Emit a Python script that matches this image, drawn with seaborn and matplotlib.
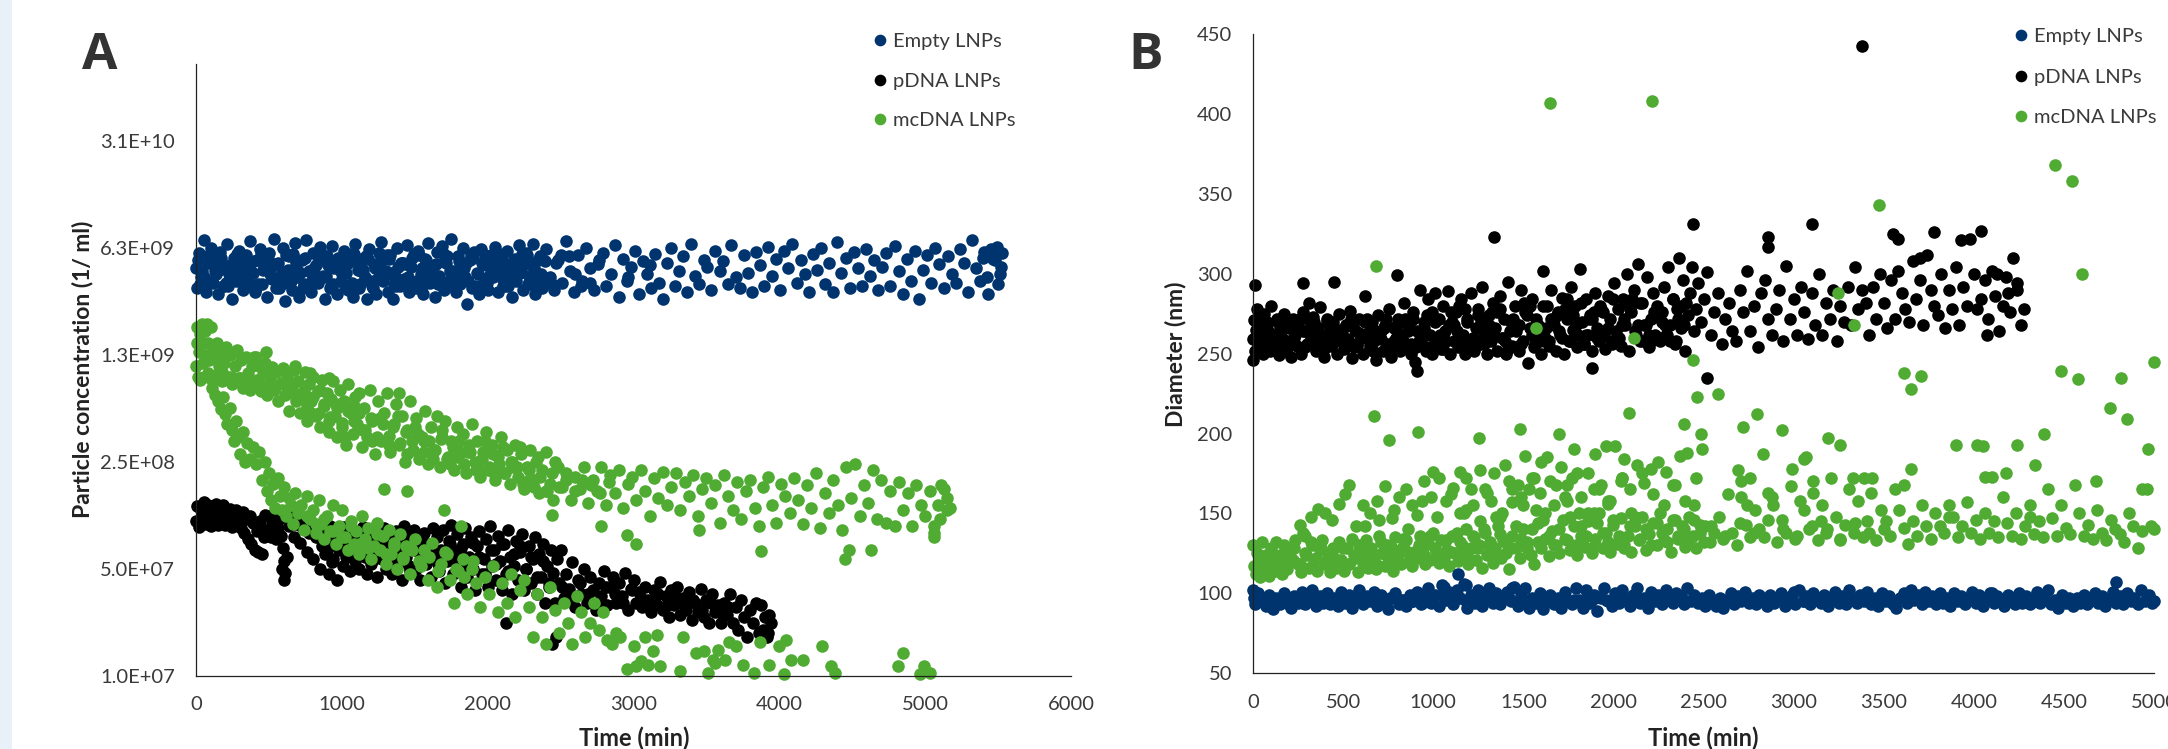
"""Particle concentration and diameter of LNP formulations over time."""

import matplotlib
matplotlib.use("Agg")
import matplotlib.pyplot as plt
from matplotlib.lines import Line2D
from matplotlib.patches import Rectangle
import pandas as pd
import seaborn as sns

W, H = 2168, 749
BLUE = "#00346F"
BLACK = "#000000"
GREEN = "#4FAB32"
TEXT = "#3A3A3A"

SERIES_NAMES = ["Empty LNPs", "pDNA LNPs", "mcDNA LNPs"]

# Panel A, concentration of empty LNPs (x 1e9 / ml)
a_empty_x = [
    0,6,20,36,52,66,84,100,114,132,
    148,164,180,194,212,228,244,258,276,292,
    308,324,340,356,372,388,404,420,436,452,
    468,484,500,516,532,548,564,580,596,612,
    628,644,660,676,692,708,724,740,756,772,
    788,804,820,836,852,868,884,900,916,932,
    948,964,980,996,1012,1028,1044,1060,1076,1092,
    1108,1124,1140,1156,1172,1188,1204,1220,1236,1252,
    1268,1284,1300,1316,1332,1348,1364,1380,1396,1412,
    1428,1444,1460,1476,1492,1508,1524,1540,1556,1572,
    1588,1604,1620,1636,1652,1668,1684,1700,1716,1732,
    1748,1764,1780,1796,1812,1828,1844,1860,1876,1892,
    1908,1924,1940,1956,1972,1988,2004,2020,2036,2052,
    2068,2084,2100,2116,2132,2148,2164,2180,2196,2212,
    2228,2244,2260,2276,2292,2308,2324,2340,2356,2372,
    2400,2428,2452,2484,2510,2536,2566,2590,2622,2648,
    2676,2702,2732,2758,2788,2812,2844,2870,2898,2926,
    2952,2982,3008,3036,3064,3090,3120,3146,3174,3204,
    3230,3258,3286,3312,3342,3368,3396,3424,3450,3480,
    3506,3534,3562,3590,3616,3646,3672,3700,3728,3756,
    3784,3812,3838,3868,3894,3922,3950,3978,4006,4034,
    4062,4090,4118,4146,4174,4202,4230,4258,4286,4314,
    4342,4370,4398,4426,4454,4482,4510,4538,4566,4594,
    4622,4650,4678,4706,4734,4762,4790,4818,4846,4874,
    4902,4930,4958,4986,5014,5042,5070,5098,5126,5154,
    5182,5210,5238,5266,5294,5322,5350,5378,5406,5434,
    5462,5490,5510,5530,5518,5500,5480,5450,5425,5395,
]
a_empty_y = [
    4.6,3.4,5.8,4.0,7.0,3.2,5.0,6.2,3.7,4.4,
    3.1,5.9,4.8,3.5,6.6,4.2,2.9,5.4,3.8,6.0,
    4.6,3.3,5.6,3.9,6.9,4.3,3.2,5.2,6.1,3.6,
    4.7,3.0,5.8,4.1,7.1,3.4,5.0,3.8,6.2,2.8,
    4.5,5.6,3.3,6.7,4.0,3.0,5.2,3.6,7.0,4.4,
    3.2,5.8,4.8,3.7,6.3,4.1,2.9,5.5,3.4,6.4,
    4.6,3.1,5.1,3.8,6.0,4.3,3.3,5.7,3.0,6.6,
    4.5,3.6,5.3,4.0,2.9,6.1,3.5,4.9,3.1,5.8,
    6.8,3.8,4.4,3.2,5.6,2.9,4.1,6.2,3.5,5.0,
    3.9,6.5,3.2,4.7,5.7,3.4,6.0,4.2,3.1,5.3,
    6.7,3.7,4.5,3.0,5.9,4.1,6.4,3.3,5.0,3.8,
    7.1,4.4,3.2,5.5,3.6,6.2,4.0,2.7,5.2,3.4,
    5.9,4.3,3.1,6.1,3.7,4.8,3.3,5.6,4.0,6.3,
    3.2,4.6,5.4,3.5,6.0,4.2,3.0,5.2,3.8,6.5,
    4.4,3.3,5.8,3.6,4.9,6.6,3.1,4.1,5.5,3.4,
    6.1,4.0,3.3,5.2,3.7,6.9,4.4,3.2,5.6,3.8,
    6.2,4.6,3.3,4.9,5.8,3.5,4.2,6.5,3.0,5.3,
    3.8,4.7,6.0,3.1,5.1,4.2,3.4,5.7,3.7,2.9,
    5.0,6.2,3.5,4.4,5.5,3.2,6.6,4.1,3.6,5.2,
    4.7,3.3,6.0,4.4,5.1,3.6,6.5,4.0,3.4,5.6,
    4.3,3.2,5.9,4.8,3.5,6.3,4.1,5.3,3.3,6.0,
    4.6,6.6,3.7,5.2,4.2,3.2,5.7,4.5,6.2,3.6,
    5.0,3.2,6.8,4.3,5.4,3.4,5.9,4.6,3.5,6.1,
    4.1,5.2,3.3,4.7,5.8,3.5,6.4,4.4,3.1,5.3,
    3.8,6.0,2.9,4.5,5.6,3.7,6.2,4.9,3.4,5.5,
    4.2,3.7,6.1,5.0,3.2,7.0,4.6,3.8,5.9,3.1,
    5.3,6.3,4.2,5.8,4.7,3.6,5.2,6.1,4.0,5.4,
]
a_empty_x2 = [
    12,40,72,108,140,172,204,236,268,300,
    332,364,396,428,460,492,524,556,588,620,
    652,684,716,748,780,812,844,876,908,940,
    972,1004,1036,1068,1100,1132,1164,1196,1228,1260,
    1292,1324,1356,1388,1420,1452,1484,1516,1548,1580,
    1612,1644,1676,1708,1740,1772,1804,1836,1868,1900,
    1932,1964,1996,2028,2060,2092,2124,2156,2188,2220,
    2252,2284,2316,2348,2380,2470,2600,2760,2960,3110,
    26,90,156,220,284,348,412,476,540,604,
    668,732,796,860,924,988,1052,1116,1180,1244,
    1308,1372,1436,1500,1564,1628,1692,1756,1820,1884,
    1948,2012,2076,2140,2204,2268,2332,2396,2500,2640,
    58,122,186,250,316,380,444,508,572,636,
    700,764,828,892,956,1020,1084,1148,1212,1276,
    1340,1404,1468,1532,1596,1660,1724,1788,1852,1916,
    1980,2044,2108,2172,2236,2300,2364,2440,2560,2700,
]
a_empty_y2 = [
    5.2,4.4,3.8,5.0,4.2,5.4,3.7,4.8,4.1,5.5,
    3.9,4.7,5.1,3.6,4.5,5.3,3.9,4.8,4.2,5.6,
    3.8,5.0,4.3,5.4,3.7,4.6,5.2,4.0,4.8,3.6,
    5.4,4.2,4.9,3.7,5.1,4.4,5.5,3.8,4.6,5.0,
    4.1,5.3,3.6,4.7,5.0,4.0,5.4,3.8,4.6,5.2,
    4.1,4.9,3.7,5.3,4.4,3.9,5.1,4.6,3.8,5.4,
    4.2,5.0,3.7,4.7,5.2,4.0,4.8,3.8,5.3,4.3,
    5.0,4.1,4.6,5.2,3.9,5.0,4.2,5.2,4.0,4.8,
    3.6,5.6,4.5,3.5,5.7,4.0,3.4,5.5,4.9,3.7,
    5.7,3.4,4.2,5.8,3.5,4.5,5.6,3.4,5.3,3.9,
    5.6,3.5,4.9,5.7,3.6,4.3,5.8,3.5,4.7,5.6,
    3.5,4.1,5.7,3.5,4.5,5.6,3.6,5.1,5.6,3.5,
    4.0,5.7,3.5,4.4,5.0,3.5,5.7,4.3,3.4,5.5,
    4.4,3.5,5.8,4.1,5.0,3.5,5.7,4.5,3.4,5.6,
    4.3,5.0,3.5,5.6,4.4,3.6,5.5,4.2,5.0,3.5,
    5.6,4.4,3.5,5.0,5.7,3.6,4.2,3.6,5.5,3.7,
]

# Panel A, concentration of pDNA LNPs (x 1e8 / ml)
a_pdna_x = [
    0,8,20,32,44,56,68,80,92,104,
    116,128,140,152,164,176,188,200,212,224,
    236,248,260,272,284,296,308,320,332,344,
    356,368,380,392,404,416,428,440,452,464,
    476,488,500,512,524,536,548,560,572,584,
    596,604,612,590,600,625,640,655,670,685,
    700,715,730,745,760,775,790,805,820,835,
    850,862,874,886,898,910,922,934,946,958,
    970,982,994,1006,1018,1030,1042,1054,1066,1078,
    1090,1104,1118,1132,1146,1160,1174,1188,1202,1216,
    1230,1244,1258,1272,1286,1300,1314,1328,1342,1356,
    1370,1384,1398,1412,1426,1440,1454,1468,1482,1496,
    1510,1524,1538,1552,1566,1580,1594,1608,1622,1636,
    1650,1664,1678,1692,1706,1720,1734,1748,1762,1776,
    1790,1804,1818,1832,1846,1860,1874,1888,1902,1916,
    1930,1944,1958,1972,1986,2000,2014,2028,2042,2056,
    2070,2084,2098,2112,2126,2140,2154,2168,2182,2196,
    2210,2224,2238,2252,2266,2280,2294,2308,2322,2336,
    2350,2364,2378,2392,2406,2420,2434,2448,2462,2476,
    2490,2500,2520,2540,2560,2580,2600,2620,2640,2660,
    2680,2700,2720,2740,2760,2780,2800,2820,2840,2860,
    2880,2900,2920,2940,2960,2980,3000,3020,3040,3060,
    3080,3100,3120,3140,3160,3180,3200,3220,3240,3260,
    3280,3300,3320,3340,3360,3380,3400,3420,3440,3460,
    3480,3500,3520,3540,3560,3580,3600,3620,3640,3660,
    3680,3700,3720,3740,3760,3780,3800,3820,3840,3860,
    3875,3885,3900,3915,3930,3940,3925,2125,2440,2470,
]
a_pdna_y = [
    1.02,1.28,.93,1.2,1.08,1.37,.98,1.3,1.12,.95,
    1.24,1.05,1.32,.97,1.18,1.08,1.3,.96,1.2,1.05,
    1.22,.94,1.12,1.2,1.0,1.15,.92,1.18,.85,1.05,
    .78,1.1,.72,1.0,.66,.88,.64,1.02,.62,.8,
    1.12,.9,1.1,.8,.98,1.12,.78,.92,1.05,.82,
    .68,.56,.47,.5,.42,.6,.95,1.08,.8,.98,
    1.1,.74,.93,1.05,.64,.86,1.0,.58,.8,.95,
    .5,.7,.9,.62,.82,.46,.95,.55,.75,.88,
    .42,.66,.86,.52,.94,.6,.76,.48,.9,.68,
    .56,.84,.5,.72,.94,.6,.46,.8,.54,.9,
    .66,.44,.78,.58,.92,.5,.7,.84,.46,.62,
    .88,.54,.74,.42,.95,.6,.82,.48,.68,.9,
    .5,.78,.42,.62,.86,.54,.72,.44,.92,.6,
    .8,.48,.66,.9,.4,.56,.76,.96,.46,.64,
    .84,.52,.38,.72,.92,.44,.6,.8,.5,.36,
    .7,.88,.46,.58,.78,.38,.95,.52,.66,.42,
    .82,.56,.36,.72,.46,.9,.6,.34,.52,.76,
    .42,.64,.84,.36,.5,.7,.4,.58,.8,.34,
    .62,.44,.72,.3,.52,.38,.66,.47,.3,.58,
    .4,.66,.32,.46,.37,.55,.28,.42,.34,.5,
    .3,.44,.36,.27,.4,.33,.48,.29,.38,.44,
    .3,.4,.33,.47,.27,.37,.42,.3,.35,.28,
    .38,.31,.26,.36,.29,.41,.27,.33,.24,.36,
    .29,.38,.25,.32,.27,.35,.23,.3,.26,.37,
    .24,.31,.22,.34,.26,.29,.22,.3,.25,.34,
    .22,.28,.2,.31,.24,.18,.27,.22,.3,.19,
    .29,.2,.24,.18,.25,.22,.19,.22,.16,.18,
]
a_pdna_x2 = [
    860,900,940,980,1020,1060,1100,1140,1180,1220,
    1260,1300,1340,1380,1420,1460,1500,1540,1580,1620,
    1660,1700,1740,1780,1820,1860,1900,1940,1980,2020,
    2060,2100,2140,2180,2220,2260,2300,2340,2380,2420,
    2510,2570,2630,2690,2750,2810,2870,2930,2990,3050,
    3110,3170,3230,3290,3350,3410,3470,3530,3590,3650,
]
a_pdna_y2 = [
    .78,.66,.58,.74,.7,.6,.76,.64,.72,.58,
    .68,.74,.56,.66,.72,.52,.66,.76,.58,.7,
    .54,.64,.72,.56,.68,.5,.74,.6,.46,.66,
    .54,.72,.48,.62,.7,.5,.6,.44,.56,.4,
    .38,.32,.4,.34,.3,.38,.34,.3,.36,.32,
    .3,.34,.29,.32,.28,.31,.27,.3,.26,.28,
]

# Panel A, concentration of mcDNA LNPs (x 1e8 / ml)
a_mc_x = [
    0,5,10,15,20,25,30,38,45,50,
    55,60,68,75,80,85,92,100,108,115,
    125,135,145,155,165,175,190,205,220,235,
    250,265,280,295,310,325,340,355,370,385,
    400,415,430,445,460,475,490,505,520,535,
    550,565,580,595,610,625,640,655,670,685,
    700,715,730,745,760,775,790,805,820,835,
    850,865,880,895,910,925,940,955,970,985,
    1000,1015,1030,1045,1060,1075,1090,1105,1120,1135,
    1150,1170,1190,1210,1230,1250,1270,1290,1310,1330,
    1350,1370,1390,1410,1430,1450,1470,1490,1510,1530,
    1550,1570,1590,1610,1630,1650,1670,1690,1710,1730,
    1750,1770,1790,1810,1830,1850,1870,1890,1910,1930,
    1950,1970,1990,2010,2030,2050,2070,2090,2110,2130,
    2150,2170,2190,2210,2230,2250,2270,2290,2310,2330,
    2350,2375,2400,2425,2450,2480,2510,2540,2570,2600,
    2630,2660,2690,2720,2750,2780,2810,2840,2870,2900,
    2930,2960,2990,3020,3050,3080,3110,3140,3170,3200,
    3230,3260,3290,3320,3350,3380,3410,3440,3470,3500,
    3530,3560,3590,3620,3650,3680,3710,3740,3770,3800,
    3830,3860,3890,3920,3950,3980,4010,4040,4070,4100,
    4130,4160,4190,4220,4250,4280,4310,4340,4370,4400,
    4430,4460,4490,4520,4550,4580,4610,4640,4670,4700,
    4730,4760,4790,4820,4850,4880,4910,4940,4970,5000,
    5030,5060,5085,5110,5130,5150,5170,5150,5100,5060,
    480,410,680,785,910,1395,2780,2957,3014,3447,
    3875,4452,4481,4630,5058,2442,1290,1450,1700,1820,
    # lower branch
    110,130,150,170,185,200,215,230,245,260,
    275,290,305,320,335,350,370,390,410,430,
    450,470,485,500,515,530,545,560,575,590,
    605,620,635,650,665,680,700,720,740,760,
    780,800,820,840,860,880,900,920,940,960,
    980,1000,1020,1040,1060,1080,1100,1120,1140,1160,
    1180,1200,1220,1240,1260,1280,1300,1320,1340,1360,
    1380,1400,1420,1440,1470,1500,1530,1560,1590,1620,
    1650,1680,1710,1740,1770,1800,1830,1860,1890,1920,
    1950,1980,2010,2040,2070,2100,2130,2160,2190,2220,
    2250,2280,2310,2340,2370,2400,2430,2460,2490,2520,
    2550,2580,2610,2640,2670,2700,2730,2760,2790,2820,
    2850,2880,2910,
    2957,3019,3053,3101,3135,3005,3077,3159,3183,3317,
    3341,3428,3486,3510,3548,3582,3558,3630,3654,3702,
    3750,3827,3870,3928,4000,4048,4029,4077,4159,4293,
    4356,4380,4817,4846,4962,4990,5034,
]
a_mc_y = [
    10.5,15,19,9,13,17,8.6,20,11,15,
    9,18,12.5,20,9.5,15,11.5,19,8.6,14,
    12,9.2,15,10.5,13,8.4,11,14,9,12.5,
    8,10.5,13.5,8.8,11.5,7.6,12,9.5,7.4,10.5,
    12,8,10.5,7.2,9.4,11,6.8,8.8,10.4,7.4,
    9.6,6.2,8.2,10.2,6.8,9,5.4,7.8,10,6.2,
    8.4,5.2,7,9.6,4.6,8,6.2,9,5,7.2,
    4.2,8.6,5.8,7,3.9,6.4,8.4,5,3.6,7.4,
    4.5,6.2,3.2,8,5.2,3.8,6.6,4.4,7,3.1,
    5.6,3.6,7.4,4.6,2.8,6.2,3.4,5.2,7,2.9,
    4.2,6,3.2,5,2.5,4,6.2,3,4.8,2.6,
    3.6,5.4,2.4,4.2,3,5,2.3,3.6,4.6,2.7,
    3.4,2.2,4.2,2.9,3.8,2.1,3.2,4.4,2.5,3.4,
    2,2.9,3.9,2.3,3.2,1.9,2.7,3.6,2.1,3,
    1.8,2.5,3.2,2,2.8,1.65,2.3,3,1.9,2.5,
    1.55,2.2,2.9,1.8,1.4,2.3,1.7,2.1,1.4,2,
    1.65,2.3,1.35,1.9,1.6,2.3,1.3,2.05,1.55,2.2,
    1.25,1.8,2,1.4,2.2,1.6,1.1,1.95,1.45,2.15,
    1.3,1.7,2.1,1.2,1.85,1.5,2.05,1.1,1.65,1.95,
    1.35,1.75,1,2.05,1.5,1.2,1.85,1.05,1.6,1.9,
    1.25,.95,1.7,2,1.3,1,1.8,1.5,1.15,1.95,
    1.4,.98,1.75,1.25,2.1,.92,1.55,1.15,1.9,1.3,
    .9,2.3,1.45,2.4,1.1,1.75,1.35,2.2,1.05,1.9,
    1,1.6,.95,1.85,1.2,1.55,.95,1.75,1.3,1.1,
    1.6,.85,1.3,1.75,1.65,1.45,1.25,1.2,1.05,.95,
    13,12,10.5,9.5,8.8,7,.95,.83,.72,.89,
    .65,.58,.66,.66,.8,1.12,1.65,1.6,1.2,.95,
    # lower branch
    7.6,6.8,6.2,5.5,6.6,5.1,4.4,5.6,4,3.4,
    4.6,3.6,2.8,3.9,2.5,3.3,2.6,3.1,2.4,2.9,
    1.9,2.5,1.6,2.1,1.4,1.8,1.25,1.95,1.5,1.2,
    1.7,1.1,1.45,1.3,.98,1.55,1.15,1.3,.9,1.5,
    1.05,1.2,.85,1.4,.98,.78,1.1,.88,1.3,.72,
    .95,1.2,.8,.66,1.02,.72,.88,.62,1.1,.78,
    .92,.58,.7,1.0,.66,.82,.54,.9,.62,.74,
    .5,.84,.6,.7,.46,.78,.56,.66,.42,.74,
    .38,.54,.64,.42,.3,.48,.58,.34,.5,.4,
    .28,.44,.34,.52,.26,.4,.3,.46,.24,.36,
    .42,.28,.18,.34,.24,.16,.38,.27,.19,.3,
    .22,.16,.33,.26,.18,.22,.3,.2,.26,.17,
    .16,.19,.18,
    .11,.116,.125,.118,.145,.155,.18,.185,.116,.107,
    .18,.14,.145,.104,.127,.147,.12,.127,.165,.155,
    .117,.104,.165,.117,.155,.17,.102,.127,.127,.155,
    .116,.104,.116,.14,.102,.116,.104,
]
a_mc_x2 = [
    180,240,300,360,420,480,540,600,660,720,
    760,800,840,880,920,960,1000,1040,1080,1120,
    1160,1200,1240,1280,1320,1360,1400,1440,1480,1520,
    1560,1600,1640,1680,1720,1760,1800,1840,1880,1920,
    1960,2000,2040,2080,2120,2160,2200,2240,2280,2320,
    2360,2400,2440,2490,2540,2600,2650,2710,2770,2830,
    760,820,880,940,1000,1060,1120,1180,1240,1300,
    1360,1420,1480,1540,1600,1660,1720,1780,1840,1900,
    740,790,850,910,970,1025,1085,1145,1205,1265,
    1325,1385,1445,1505,1565,1625,1685,1745,1805,1865,
    1925,1985,2045,2105,2165,2225,2285,2345,2405,2465,
]
a_mc_y2 = [
    9.6,9,8.8,8.2,8.6,7.8,7.6,8,7,6.6,
    5.8,6.6,5.2,6,4.9,6,4.2,5.4,4.6,5.2,
    4,4.8,3.6,4.4,3.7,4.4,3.3,3.9,3.4,3.8,
    2.9,3.4,3,3.5,2.6,3.1,2.7,2.4,2.9,2.2,
    2.6,2.2,2.8,2.4,2.1,2.5,2.3,1.8,2.2,1.7,
    2,1.6,2.1,1.7,1.9,1.6,1.9,1.75,1.55,1.85,
    1.1,.98,1.05,.88,.8,.95,.72,.68,.84,.62,
    .7,.58,.66,.52,.6,.48,.62,.5,.44,.56,
    7.2,5.2,7.4,4.6,5.6,3.6,5.8,4,3.4,4.8,
    3.2,5,2.8,4.2,3.4,2.6,4,2.4,3.4,2.9,
    2.3,3.4,2.1,3.1,2.3,3.1,1.9,2.7,1.6,2.5,
]

# Panel B, diameter of empty LNPs (nm)
b_empty_x = [
    0,5,12,30,50,70,90,110,130,150,
    170,190,210,230,250,270,290,310,330,350,
    370,390,410,430,450,470,490,510,530,550,
    570,590,610,630,650,670,690,710,730,750,
    770,790,810,830,850,870,890,910,930,950,
    970,990,1010,1030,1050,1070,1090,1110,1130,1150,
    1170,1190,1210,1230,1250,1270,1290,1310,1330,1350,
    1370,1390,1410,1430,1450,1470,1490,1510,1530,1550,
    1570,1590,1610,1630,1650,1670,1690,1710,1730,1750,
    1770,1790,1810,1830,1850,1870,1890,1910,1930,1950,
    1970,1990,2010,2030,2050,2070,2090,2110,2130,2150,
    2170,2190,2210,2230,2250,2270,2290,2310,2330,2350,
    2370,2390,2410,2430,2450,2470,2490,2510,2530,2550,
    2570,2590,2610,2630,2650,2670,2690,2710,2730,2750,
    2770,2790,2810,2830,2850,2870,2890,2910,2930,2950,
    2970,2990,3010,3030,3050,3070,3090,3110,3130,3150,
    3170,3190,3210,3230,3250,3270,3290,3310,3330,3350,
    3370,3390,3410,3430,3450,3470,3490,3510,3530,3550,
    3570,3590,3610,3630,3650,3670,3690,3710,3730,3750,
    3770,3790,3810,3830,3850,3870,3890,3910,3930,3950,
    3970,3990,4010,4030,4050,4070,4090,4110,4130,4150,
    4170,4190,4210,4230,4250,4270,4290,4310,4330,4350,
    4370,4390,4410,4430,4450,4470,4490,4510,4530,4550,
    4570,4590,4610,4630,4650,4670,4690,4710,4730,4750,
    4770,4790,4810,4830,4850,4870,4890,4910,4930,4950,
    4970,4990,5000,1140,4790,1060,1180,1440,3000,4100,
]
b_empty_y = [
    102,97,93,100,95,92,99,90,97,93,
    100,94,91,98,94,101,93,96,102,92,
    98,94,100,93,97,92,101,94,99,91,
    96,102,93,98,95,101,92,99,94,90,
    97,100,93,96,92,99,95,101,93,97,
    103,94,99,92,105,96,101,93,102,97,
    106,91,99,94,102,92,97,103,94,100,
    93,98,101,95,104,92,99,103,91,97,
    94,100,90,96,99,93,97,91,101,95,
    93,103,96,91,102,94,99,89,97,103,
    95,92,100,94,102,96,92,99,103,94,
    97,91,101,95,99,93,102,96,94,100,
    98,93,103,95,99,94,97,92,99,95,
    92,97,91,96,100,93,98,95,101,94,
    97,93,99,95,92,99,94,97,100,92,
    96,99,93,102,95,98,93,100,96,94,
    99,92,97,101,94,98,93,102,96,94,
    99,95,101,93,97,92,100,95,98,93,
    91,97,100,94,102,96,99,93,101,95,
    98,93,100,94,97,92,100,95,98,93,
    97,101,94,99,92,97,100,94,98,95,
    92,99,96,93,100,94,98,93,97,101,
    94,98,102,93,96,91,99,94,97,92,
    97,94,99,93,96,100,94,98,92,96,
    101,94,98,93,100,95,97,93,102,95,
    99,94,95,112,107,104,105,103,101,100,
]
b_empty_x2 = [
    40,100,160,220,280,340,400,460,520,580,
    640,700,760,820,880,940,1000,1060,1120,1180,
    1240,1300,1360,1420,1480,1540,1600,1660,1720,1780,
    1840,1900,1960,2020,2080,2140,2200,2260,2320,2380,
    2440,2500,2580,2660,2740,2820,2900,2980,3060,3140,
]
b_empty_y2 = [
    96,95,97,96,94,97,95,96,97,95,
    96,94,97,96,95,94,97,98,97,95,
    96,98,95,97,96,94,96,95,97,96,
    95,97,96,98,95,97,96,98,95,97,
    96,95,96,97,95,96,97,96,95,97,
]

# Panel B, diameter of pDNA LNPs (nm)
b_pdna_x = [
    0,4,10,15,22,30,38,46,54,62,
    70,78,86,94,102,112,122,132,142,152,
    162,172,182,192,202,212,222,232,242,252,
    264,276,288,300,312,324,336,348,360,372,
    384,396,408,420,432,444,456,468,480,492,
    504,516,528,540,552,564,576,588,600,612,
    624,636,648,660,672,684,696,708,720,732,
    744,756,768,780,792,804,816,828,840,852,
    864,876,888,900,912,924,936,948,960,972,
    984,996,1008,1020,1032,1044,1056,1068,1080,1092,
    1104,1116,1128,1140,1152,1164,1176,1188,1200,1212,
    1224,1236,1248,1260,1272,1284,1296,1308,1320,1332,
    1344,1356,1368,1380,1392,1404,1416,1428,1440,1452,
    1464,1476,1488,1500,1512,1524,1536,1548,1560,1572,
    1584,1596,1608,1620,1632,1644,1656,1668,1680,1692,
    1704,1716,1728,1740,1752,1764,1776,1788,1800,1812,
    1824,1836,1848,1860,1872,1884,1896,1908,1920,1932,
    1944,1956,1968,1980,1992,2004,2016,2028,2040,2052,
    2064,2076,2088,2100,2112,2124,2136,2148,2160,2172,
    2184,2196,2208,2220,2232,2244,2256,2268,2280,2292,
    2304,2316,2328,2340,2352,2364,2376,2388,2400,2412,
    2424,2436,2448,2460,2472,2484,2500,2520,2540,2560,
    2580,2600,2620,2640,2660,2680,2700,2720,2740,2760,
    2780,2800,2820,2840,2860,2880,2900,2920,2940,2960,
    2980,3000,3020,3040,3060,3080,3100,3120,3140,3160,
    3180,3200,3220,3240,3260,3280,3300,3320,3340,3360,
    3380,3400,3420,3440,3460,3480,3500,3520,3540,3560,
    3580,3600,3620,3640,3660,3680,3700,3720,3740,3760,
    3780,3800,3820,3840,3860,3880,3900,3920,3940,3960,
    3980,4000,4020,4040,4060,4080,4100,4120,4140,4160,
    4180,4200,4220,4240,4260,4280,4240,4190,4130,4075,
    3381,1335,2443,3101,2859,2859,10,275,450,800,
    1883,908,2522,0,3580,3550,3780,4040,3930,3700,
]
b_pdna_y = [
    259,271,252,265,278,255,268,262,250,275,
    258,270,264,252,280,262,256,272,249,266,
    260,275,253,268,258,248,272,262,255,268,
    250,276,264,256,282,260,270,252,266,279,
    256,248,272,262,255,270,258,250,275,264,
    253,268,259,277,247,265,255,272,260,250,
    286,263,254,270,258,246,274,264,252,268,
    256,278,248,266,260,272,252,262,282,255,
    268,250,276,245,264,290,256,270,252,284,
    262,250,288,258,272,253,280,264,289,250,
    270,258,276,254,284,262,250,272,258,288,
    252,266,278,256,292,262,250,274,258,282,
    266,252,286,260,272,250,295,264,255,280,
    268,252,290,258,276,244,266,284,254,272,
    262,250,302,260,280,255,290,268,252,276,
    262,285,250,272,258,292,265,280,254,303,
    270,256,284,262,274,252,288,266,258,278,
    262,253,286,272,256,294,264,278,255,284,
    268,300,252,276,290,262,306,258,282,268,
    298,254,272,288,262,280,258,276,292,262,
    304,268,284,256,278,310,266,296,252,274,
    288,304,264,278,294,270,284,301,262,276,
    288,256,272,282,264,258,290,276,302,264,
    280,254,288,296,272,262,278,290,258,305,
    272,284,262,292,276,259,288,268,300,262,
    282,272,290,258,280,270,292,268,304,278,
    290,282,262,292,272,300,282,266,296,272,
    302,288,278,270,308,284,296,268,312,290,
    280,274,300,266,290,278,304,268,292,280,
    322,300,278,284,296,272,302,286,264,280,
    298,276,310,290,268,278,294,288,300,262,
    443,323,331,331,323,317,293,294,295,299,
    241,239,235,246,322,325,326,327,321,310,
]
b_pdna_x2 = [
    20,50,80,110,140,170,200,230,260,290,
    320,350,380,410,440,470,500,530,560,590,
    620,650,680,710,740,770,800,830,860,890,
    920,950,980,1010,1040,1070,1100,1130,1160,1190,
    1220,1250,1280,1310,1340,1370,1400,1430,1460,1490,
    1520,1550,1580,1610,1640,1670,1700,1730,1760,1790,
    1820,1850,1880,1910,1940,1970,2000,2030,2060,2090,
    2120,2150,2180,2210,2240,2270,2300,2330,2360,2390,
    35,95,155,215,275,335,395,455,515,575,
    635,695,755,815,875,935,995,1055,1115,1175,
    1235,1295,1355,1415,1475,1535,1595,1655,1715,1775,
    1835,1895,1955,2015,2075,2135,2195,2255,2315,2375,
    65,125,185,245,305,365,425,485,545,605,
    665,725,785,845,905,965,1025,1085,1145,1205,
    1265,1325,1385,1445,1505,1565,1625,1685,1745,1805,
    1865,1925,1985,2045,2105,2165,2225,2285,2345,2405,
]
b_pdna_y2 = [
    264,256,268,258,270,255,266,260,272,254,
    266,258,262,270,256,265,260,268,254,263,
    270,256,264,259,272,254,268,258,264,272,
    258,266,254,270,262,258,276,264,256,270,
    260,274,256,268,262,278,258,270,264,256,
    274,262,268,280,258,272,264,278,258,268,
    282,262,272,260,276,266,284,260,272,278,
    264,282,268,258,276,270,262,284,272,268,
    253,262,270,256,264,273,253,260,268,256,
    272,260,252,270,256,263,276,253,268,278,
    255,264,276,253,268,280,258,272,260,274,
    256,276,264,258,282,268,262,276,258,280,
    270,258,252,264,272,254,266,258,272,262,
    252,266,258,272,254,274,260,268,280,256,
    270,276,260,272,282,256,266,274,284,262,
    272,280,258,268,284,258,276,268,258,282,
]

# Panel B, diameter of mcDNA LNPs (nm)
b_mc_x = [
    0,8,16,24,32,40,50,60,70,80,
    90,100,110,120,130,140,150,160,170,180,
    190,205,220,235,250,265,280,295,310,325,
    340,355,370,385,400,415,430,445,460,475,
    490,505,520,535,550,565,580,595,610,625,
    640,655,670,685,700,715,730,745,760,775,
    790,805,820,835,850,865,880,895,910,925,
    940,955,970,985,1000,1015,1030,1045,1060,1075,
    1090,1105,1120,1135,1150,1165,1180,1195,1210,1225,
    1240,1255,1270,1285,1300,1315,1330,1345,1360,1375,
    1390,1405,1420,1440,1460,1480,1500,1520,1540,1560,
    1580,1600,1620,1640,1660,1680,1700,1720,1740,1760,
    1780,1800,1820,1840,1860,1880,1900,1920,1940,1960,
    1980,2000,2020,2040,2060,2080,2100,2120,2140,2160,
    2180,2200,2220,2240,2260,2280,2300,2320,2340,2360,
    2380,2400,2420,2440,2460,2480,2500,
    # upper scatter, start to 2500 min
    260,290,320,360,400,440,480,510,530,570,
    610,650,690,730,770,810,850,880,910,950,
    990,1030,1070,1110,1150,1180,1220,1260,1300,1340,
    1370,1400,1440,1470,1510,1550,1590,1630,1670,1710,
    1740,1780,1820,1860,1900,1930,1970,2010,2050,2090,
    2130,2170,2210,2250,2290,2330,2370,2410,2450,2490,
    1000,1150,1290,1420,1530,1600,1770,1890,1960,2060,
    # later
    2510,2535,2560,2585,2610,2635,2660,2685,2710,2735,
    2760,2785,2810,2835,2860,2885,2910,2935,2960,2985,
    3010,3035,3060,3085,3110,3135,3160,3185,3210,3235,
    3260,3285,3310,3335,3360,3385,3410,3435,3460,3485,
    3510,3535,3560,3585,3610,3635,3660,3685,3710,3735,
    3760,3785,3810,3835,3860,3885,3910,3935,3960,3985,
    4010,4035,4060,4085,4110,4135,4160,4185,4210,4235,
    4260,4285,4310,4335,4360,4385,4410,4435,4460,4485,
    4510,4535,4560,4585,4610,4635,4660,4685,4710,4735,
    4760,4785,4810,4835,4860,4885,4910,4935,4960,4985,
    5000,2990,3060,3190,3260,3330,3390,3430,3610,3650,
    3860,3900,4020,4050,4100,4180,4240,4310,4340,4060,
    2690,2710,2740,2760,2830,2880,3070,3110,3150,4680,
    # outliers
    1650,2212,4452,4546,3472,4603,685,3249,3336,1573,
    2114,2443,3612,3706,3654,4482,4576,4815,5000,4758,
    4849,2466,2579,2084,2799,669,756,915,1252,1483,
    1698,2719,2935,2485,2390,4387,4966,4936,
]
b_mc_y = [
    130,117,112,125,120,110,132,115,124,118,
    111,128,122,114,132,118,124,112,130,120,
    115,126,121,133,118,113,138,124,116,130,
    120,114,127,133,118,122,113,128,116,132,
    121,114,128,118,134,122,113,126,119,133,
    116,128,122,115,136,125,117,130,121,114,
    135,124,118,129,133,120,117,126,122,136,
    128,118,131,121,138,126,119,133,122,127,
    117,136,125,120,132,123,140,118,128,135,
    121,130,116,138,124,132,119,128,142,122,
    133,125,115,136,128,122,140,132,124,118,
    144,128,134,123,139,130,125,146,133,127,
    142,124,136,129,145,125,134,150,128,138,
    126,143,131,147,128,136,126,142,133,148,
    127,137,144,130,150,133,140,126,146,134,
    142,129,148,136,128,143,132,
    143,136,148,153,150,146,156,162,168,142,
    155,150,158,167,147,160,165,155,149,170,
    160,172,158,166,150,172,155,177,163,175,
    148,180,157,168,186,172,163,185,155,179,
    168,190,160,175,187,168,158,192,172,165,
    180,169,178,182,176,168,186,188,155,190,
    176,176,165,170,165,182,172,150,192,184,
    # later
    142,132,138,148,134,162,138,130,170,143,
    135,152,140,135,163,155,132,146,138,167,
    134,158,184,140,163,133,155,140,172,148,
    133,143,165,138,158,135,145,172,133,152,
    145,136,165,152,141,131,145,136,155,142,
    134,150,142,138,155,148,135,142,157,138,
    146,134,150,138,145,135,160,144,136,150,
    134,142,155,137,145,135,165,147,136,155,
    141,137,168,150,136,143,134,152,138,133,
    146,140,137,132,150,142,128,139,165,142,
    140,178,152,197,193,172,172,163,168,178,
    148,193,193,192,173,175,193,148,180,173,
    177,160,155,172,187,160,185,170,145,170,
    407,408,368,358,343,300,305,288,268,266,
    260,246,238,236,228,239,234,235,245,216,
    209,223,225,213,212,211,196,201,197,203,
    200,204,202,200,206,200,190,165,
]
b_mc_x2 = [
    200,230,260,290,320,350,380,410,440,470,
    500,530,560,590,620,650,680,710,740,770,
    800,830,860,890,920,950,980,1010,1040,1070,
    1100,1130,1160,1190,1220,1250,1280,1310,1340,1370,
    1400,1430,1460,1490,1520,1550,1580,1610,1640,1670,
    1700,1730,1760,1790,1820,1850,1880,1910,1940,1970,
    2000,2030,2060,2090,2120,2150,2180,2210,2240,2270,
    2300,2330,2360,2390,2420,2450,2480,2540,2620,2700,
    2780,2860,2940,3020,3100,3180,3260,3340,3420,3500,
    # middle of the upper scatter
    620,700,780,860,940,1020,1100,1180,1260,1320,
    1380,1440,1500,1560,1620,1680,1740,1800,1860,1920,
    1980,2040,2100,2160,2220,2280,2340,2400,2460,1170,
    1210,1350,1490,1570,1650,1730,1810,1890,1970,2050,
]
b_mc_y2 = [
    122,128,118,125,132,122,128,120,126,121,
    128,118,124,130,122,127,118,132,124,128,
    120,134,126,122,130,124,136,128,122,133,
    126,138,130,124,136,128,140,130,126,137,
    132,128,142,134,128,140,132,146,136,130,
    140,134,148,130,142,136,128,144,138,132,
    146,136,130,142,148,134,140,130,144,138,
    132,146,136,140,134,146,138,142,136,144,
    138,146,140,136,142,138,134,144,138,140,
    142,146,152,140,158,148,162,152,145,158,
    150,165,155,172,150,168,158,175,150,165,
    158,170,150,175,162,155,168,158,172,150,
    165,148,160,152,170,160,150,165,156,172,
]


def add_series(ax, x, y, color, unit=1.0):
    df = pd.DataFrame(list(zip(x, y)), columns=["time", "value"])
    df["value"] = df["value"] * unit
    sns.scatterplot(data=df, x="time", y="value", color=color, s=82,
                    linewidth=0, legend=False, clip_on=False, ax=ax)


def style_axes(ax):
    sns.despine(ax=ax)
    for side in ["left", "bottom"]:
        ax.spines[side].set_color("#222222")
        ax.spines[side].set_linewidth(0.9)
    ax.tick_params(axis="both", which="both", length=0, labelsize=14.5,
                   labelcolor=TEXT)
    ax.tick_params(axis="x", pad=15)
    ax.tick_params(axis="y", pad=15)
    ax.set_xlabel("")
    ax.set_ylabel("")
    ax.grid(False)


def add_legend(fig, left_px, top_px, spacing):
    handles = [Line2D([], [], ls="", marker="o", ms=8.4, mew=0, color=c)
               for c in [BLUE, BLACK, GREEN]]
    fig.legend(handles, SERIES_NAMES, loc="upper left", frameon=False,
               bbox_to_anchor=(left_px / W, 1 - top_px / H), fontsize=14.5,
               labelcolor=TEXT, handlelength=1.0, handletextpad=0.14,
               labelspacing=spacing, borderpad=0, borderaxespad=0)


sns.set_theme(style="white")
plt.rcParams["font.family"] = ["Lato", "DejaVu Sans"]

fig = plt.figure(figsize=(W / 100, H / 100), dpi=100, facecolor="white")
fig.add_artist(Rectangle((0, 0), 12 / W, 1, transform=fig.transFigure,
                         facecolor="#E8F1F8", edgecolor="none"))

# Panel A
ax_a = fig.add_axes([196 / W, 1 - 675.6 / H, 875 / W, 612 / H])
add_series(ax_a, a_empty_x + a_empty_x2, a_empty_y + a_empty_y2, BLUE, 1e9)
add_series(ax_a, a_pdna_x + a_pdna_x2, a_pdna_y + a_pdna_y2, BLACK, 1e8)
add_series(ax_a, a_mc_x + a_mc_x2, a_mc_y + a_mc_y2, GREEN, 1e8)
ax_a.set_yscale("log", base=5)
ax_a.set_xlim(0, 6000)
ax_a.set_ylim(1e7, 1e11)
ax_a.set_xticks([0, 1000, 2000, 3000, 4000, 5000, 6000])
ax_a.set_yticks([1e7, 5e7, 2.5e8, 1.25e9, 6.25e9, 3.125e10])
ax_a.set_yticklabels(["1.0E+07", "5.0E+07", "2.5E+08", "1.3E+09", "6.3E+09", "3.1E+10"])
ax_a.minorticks_off()
style_axes(ax_a)

# Panel B
ax_b = fig.add_axes([1253 / W, 1 - 673 / H, 901 / W, 638.6 / H])
add_series(ax_b, b_pdna_x + b_pdna_x2, b_pdna_y + b_pdna_y2, BLACK)
add_series(ax_b, b_mc_x + b_mc_x2, b_mc_y + b_mc_y2, GREEN)
add_series(ax_b, b_empty_x + b_empty_x2, b_empty_y + b_empty_y2, BLUE)
ax_b.set_xlim(0, 5000)
ax_b.set_ylim(50, 450)
ax_b.set_xticks([0, 500, 1000, 1500, 2000, 2500, 3000, 3500, 4000, 4500, 5000])
ax_b.set_yticks([50, 100, 150, 200, 250, 300, 350, 400, 450])
style_axes(ax_b)

add_legend(fig, 870, 33, 1.12)
add_legend(fig, 2011, 28, 1.16)

fig.text(83 / W, 1 - 369 / H, "Particle concentration (1/ ml)", rotation=90,
         ha="center", va="center", fontsize=16.5, fontweight="bold", color="#222222")
fig.text(1175 / W, 1 - 354 / H, "Diameter (nm)", rotation=90,
         ha="center", va="center", fontsize=16.5, fontweight="bold", color="#222222")
fig.text(634 / W, 1 - 738 / H, "Time (min)", ha="center", va="center",
         fontsize=17, fontweight="bold", color="#222222")
fig.text(1703 / W, 1 - 738 / H, "Time (min)", ha="center", va="center",
         fontsize=17, fontweight="bold", color="#222222")
fig.text(100 / W, 1 - 56 / H, "A", ha="center", va="center", fontsize=37,
         fontweight="bold", color="#333333", family="Open Sans")
fig.text(1146 / W, 1 - 56 / H, "B", ha="center", va="center", fontsize=37,
         fontweight="bold", color="#333333", family="Open Sans")

fig.savefig("out.png", dpi=100)
plt.close(fig)
